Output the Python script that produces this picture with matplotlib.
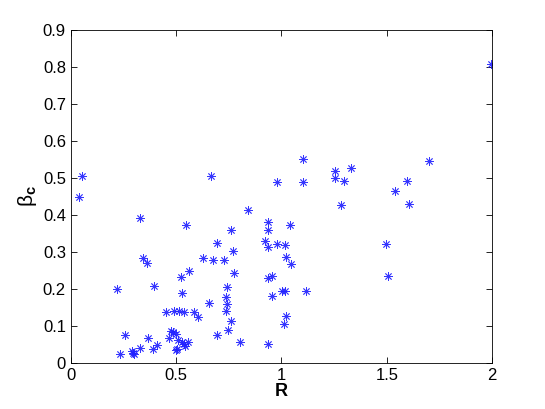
import matplotlib
matplotlib.use("Agg")
import matplotlib.pyplot as plt

R = [0.041, 0.054, 0.221, 0.235, 0.257, 0.289, 0.297, 0.300, 0.327, 0.327,
     0.344, 0.360, 0.368, 0.392, 0.395, 0.411, 0.452, 0.467, 0.475, 0.487,
     0.490, 0.497, 0.500, 0.506, 0.511, 0.514, 0.525, 0.527, 0.530, 0.537,
     0.537, 0.540, 0.549, 0.556, 0.560, 0.583, 0.602, 0.629, 0.654, 0.665,
     0.675, 0.692, 0.692, 0.725, 0.737, 0.738, 0.743, 0.743, 0.744, 0.760,
     0.760, 0.768, 0.775, 0.802, 0.840, 0.920, 0.935, 0.937, 0.937, 0.937,
     0.937, 0.953, 0.956, 0.978, 0.979, 1.004, 1.012, 1.016, 1.016, 1.022,
     1.022, 1.040, 1.045, 1.101, 1.103, 1.116, 1.254, 1.256, 1.281, 1.299,
     1.328, 1.495, 1.505, 1.541, 1.597, 1.607, 1.702, 1.993]
beta_c = [0.450, 0.505, 0.200, 0.025, 0.077, 0.032, 0.027, 0.025, 0.392, 0.041,
          0.283, 0.270, 0.068, 0.039, 0.209, 0.049, 0.138, 0.068, 0.087, 0.084,
          0.141, 0.080, 0.036, 0.038, 0.063, 0.141, 0.232, 0.189, 0.056, 0.138,
          0.052, 0.047, 0.372, 0.056, 0.248, 0.138, 0.126, 0.283, 0.162, 0.505,
          0.278, 0.324, 0.076, 0.278, 0.141, 0.178, 0.205, 0.161, 0.090, 0.360,
          0.114, 0.302, 0.243, 0.056, 0.414, 0.329, 0.052, 0.380, 0.360, 0.313,
          0.231, 0.182, 0.235, 0.489, 0.321, 0.196, 0.106, 0.196, 0.318, 0.127,
          0.286, 0.372, 0.267, 0.489, 0.551, 0.196, 0.518, 0.501, 0.427, 0.492,
          0.528, 0.321, 0.235, 0.466, 0.492, 0.430, 0.547, 0.808]

x_ticks = [0, 0.5, 1, 1.5, 2]
x_tick_labels = ["0", "0.5", "1", "1.5", "2"]
y_ticks = [0, 0.1, 0.2, 0.3, 0.4, 0.5, 0.6, 0.7, 0.8, 0.9]
y_tick_labels = ["0", "0.1", "0.2", "0.3", "0.4", "0.5", "0.6", "0.7", "0.8", "0.9"]

plt.rcParams['font.family'] = ['Liberation Sans', 'DejaVu Sans']
plt.rcParams['mathtext.fontset'] = 'custom'
plt.rcParams['mathtext.rm'] = 'Liberation Sans'
plt.rcParams['mathtext.it'] = 'Liberation Sans'
plt.rcParams['mathtext.bf'] = 'Liberation Sans:bold'

fig = plt.figure(figsize=(5.45, 4.09), dpi=100)
ax = fig.add_axes([0.13, 0.112, 0.773, 0.815])
ax.plot(R, beta_c, linestyle='none', marker=(8, 2, 0), markersize=6,
        markeredgewidth=0.6, color='#2020ff', markeredgecolor='#2020ff', alpha=0.9)
ax.set_xlim(0, 2)
ax.set_ylim(0, 0.9)
ax.set_xticks(x_ticks)
ax.set_xticklabels(x_tick_labels)
ax.set_yticks(y_ticks)
ax.set_yticklabels(y_tick_labels)
ax.tick_params(direction='in', top=True, right=True, labelsize=12, length=4, width=0.6)
for s in ax.spines.values():
    s.set_linewidth(0.6)
ax.set_xlabel('R', fontsize=13, fontweight='bold', labelpad=0)
ax.set_ylabel(r'$\beta_{\mathbf{c}}$', fontsize=15, labelpad=3)
fig.savefig('out.png', dpi=100)
